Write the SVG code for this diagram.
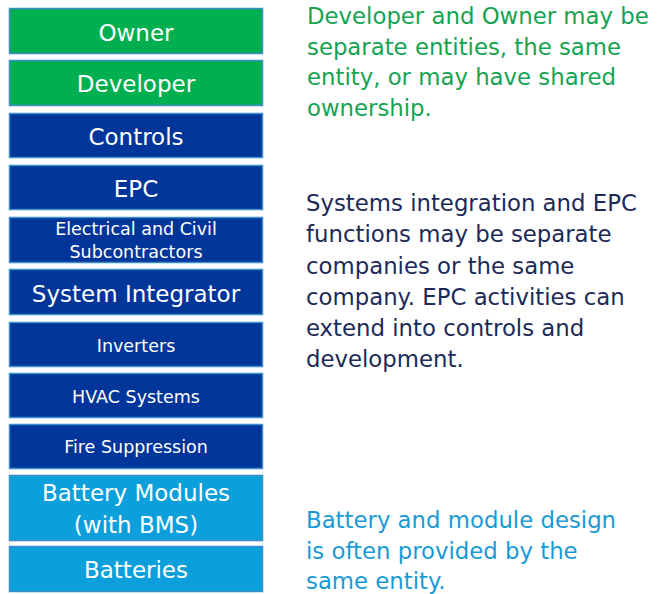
<svg xmlns="http://www.w3.org/2000/svg" width="657" height="594" viewBox="0 0 657 594">
  <style>
    .box { stroke: #3A8FC8; stroke-width: 1.5; }
    .green { fill: #00B050; }
    .navy { fill: #00359A; }
    .sky { fill: #0BA0DB; }
    .lbl { font-family: "DejaVu Sans", Verdana, sans-serif; fill: #FFFFFF; text-anchor: middle; }
    .big { font-size: 23px; }
    .small { font-size: 17.5px; }
    .note { font-family: "DejaVu Sans", Verdana, sans-serif; font-size: 22.8px; }
  </style>
  <rect width="657" height="594" fill="#FFFFFF"/>

  <!-- stack of roles, top to bottom -->
  <g id="owner">
    <rect class="box green" x="9.5" y="8.5" width="253" height="45"/>
    <text class="lbl big" x="136" y="41">Owner</text>
  </g>
  <g id="developer">
    <rect class="box green" x="9.5" y="60.5" width="253" height="45"/>
    <text class="lbl big" x="136" y="92">Developer</text>
  </g>
  <g id="controls">
    <rect class="box navy" x="9.5" y="113.5" width="253" height="44"/>
    <text class="lbl big" x="136" y="145">Controls</text>
  </g>
  <g id="epc">
    <rect class="box navy" x="9.5" y="165.5" width="253" height="44"/>
    <text class="lbl big" x="136" y="197">EPC</text>
  </g>
  <g id="subcontractors">
    <rect class="box navy" x="9.5" y="217.5" width="253" height="45"/>
    <text class="lbl small" x="136" y="235">Electrical and Civil</text>
    <text class="lbl small" x="136" y="258">Subcontractors</text>
  </g>
  <g id="system-integrator">
    <rect class="box navy" x="9.5" y="269.5" width="253" height="45"/>
    <text class="lbl big" x="136" y="302">System Integrator</text>
  </g>
  <g id="inverters">
    <rect class="box navy" x="9.5" y="322.5" width="253" height="44"/>
    <text class="lbl small" x="136" y="352">Inverters</text>
  </g>
  <g id="hvac">
    <rect class="box navy" x="9.5" y="373.5" width="253" height="44"/>
    <text class="lbl small" x="136" y="403">HVAC Systems</text>
  </g>
  <g id="fire-suppression">
    <rect class="box navy" x="9.5" y="424.5" width="253" height="44"/>
    <text class="lbl small" x="136" y="453">Fire Suppression</text>
  </g>
  <g id="battery-modules">
    <rect class="box sky" x="9.5" y="475.5" width="253" height="65"/>
    <text class="lbl big" x="136" y="501">Battery Modules</text>
    <text class="lbl big" x="136" y="533">(with BMS)</text>
  </g>
  <g id="batteries">
    <rect class="box sky" x="9.5" y="546.5" width="253" height="45"/>
    <text class="lbl big" x="136" y="578">Batteries</text>
  </g>

  <!-- explanatory notes -->
  <g id="connectors"/>
  <g id="note-ownership" class="note" fill="#14A451">
    <text x="307" y="24">Developer and Owner may be</text>
    <text x="307" y="54.5">separate entities, the same</text>
    <text x="307" y="85">entity, or may have shared</text>
    <text x="307" y="115.5">ownership.</text>
  </g>
  <g id="note-integration" class="note" fill="#1C2A58">
    <text x="306" y="211">Systems integration and EPC</text>
    <text x="306" y="242">functions may be separate</text>
    <text x="306" y="273.5">companies or the same</text>
    <text x="306" y="305">company. EPC activities can</text>
    <text x="306" y="336">extend into controls and</text>
    <text x="306" y="367">development.</text>
  </g>
  <g id="note-battery" class="note" fill="#1A9AD5">
    <text x="306" y="527.5">Battery and module design</text>
    <text x="306" y="558.5">is often provided by the</text>
    <text x="306" y="588.5">same entity.</text>
  </g>
</svg>
